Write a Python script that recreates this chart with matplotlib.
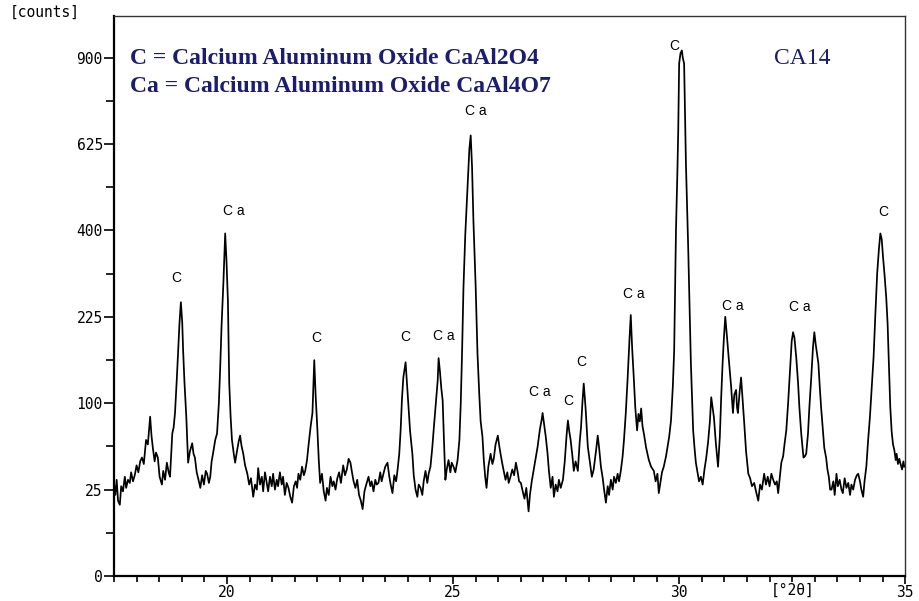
import numpy as np
import matplotlib
matplotlib.use('Agg')
import matplotlib.pyplot as plt

# XRD scan of sample CA14 (2theta in degrees, counts)
two_theta = [
    17.50, 17.53, 17.56, 17.59, 17.63, 17.66, 17.70, 17.74, 17.77, 17.81,
    17.85, 17.88, 17.92, 17.96, 18.00, 18.04, 18.08, 18.12, 18.16, 18.21,
    18.25, 18.30, 18.33, 18.36, 18.40, 18.43, 18.47, 18.51, 18.56, 18.59,
    18.63, 18.67, 18.71, 18.74, 18.79, 18.82, 18.85, 18.89, 18.92, 18.95,
    18.98, 19.01, 19.03, 19.06, 19.10, 19.14, 19.18, 19.23, 19.26, 19.29,
    19.33, 19.37, 19.41, 19.45, 19.49, 19.53, 19.56, 19.60, 19.63, 19.66,
    19.69, 19.74, 19.78, 19.82, 19.85, 19.88, 19.92, 19.96, 19.99, 20.02,
    20.05, 20.08, 20.11, 20.15, 20.18, 20.22, 20.26, 20.29, 20.32, 20.36,
    20.40, 20.45, 20.49, 20.53, 20.58, 20.62, 20.66, 20.69, 20.73, 20.77,
    20.80, 20.84, 20.88, 20.91, 20.95, 20.99, 21.02, 21.06, 21.10, 21.13,
    21.17, 21.21, 21.24, 21.28, 21.32, 21.36, 21.40, 21.44, 21.48, 21.52,
    21.55, 21.58, 21.62, 21.66, 21.70, 21.73, 21.77, 21.80, 21.85, 21.89,
    21.91, 21.93, 21.96, 22.00, 22.03, 22.06, 22.10, 22.14, 22.18, 22.21,
    22.25, 22.29, 22.33, 22.36, 22.40, 22.44, 22.48, 22.52, 22.57, 22.61,
    22.65, 22.69, 22.73, 22.77, 22.80, 22.84, 22.88, 22.92, 22.96, 23.00,
    23.04, 23.08, 23.13, 23.17, 23.20, 23.24, 23.28, 23.31, 23.35, 23.39,
    23.42, 23.46, 23.50, 23.55, 23.59, 23.62, 23.66, 23.70, 23.74, 23.77,
    23.81, 23.84, 23.87, 23.90, 23.95, 23.98, 24.01, 24.05, 24.10, 24.13,
    24.17, 24.21, 24.24, 24.28, 24.32, 24.35, 24.39, 24.43, 24.46, 24.50,
    24.54, 24.57, 24.62, 24.66, 24.68, 24.71, 24.74, 24.77, 24.80, 24.83,
    24.86, 24.90, 24.94, 24.97, 25.01, 25.05, 25.10, 25.14, 25.17, 25.20,
    25.23, 25.27, 25.32, 25.36, 25.39, 25.42, 25.45, 25.50, 25.54, 25.58,
    25.61, 25.65, 25.68, 25.71, 25.74, 25.78, 25.83, 25.87, 25.90, 25.94,
    25.99, 26.02, 26.05, 26.09, 26.12, 26.16, 26.20, 26.23, 26.27, 26.31,
    26.35, 26.39, 26.43, 26.46, 26.50, 26.54, 26.58, 26.62, 26.67, 26.70,
    26.74, 26.78, 26.82, 26.87, 26.92, 26.96, 26.98, 27.02, 27.05, 27.09,
    27.12, 27.16, 27.20, 27.23, 27.27, 27.31, 27.34, 27.38, 27.43, 27.47,
    27.51, 27.54, 27.57, 27.60, 27.64, 27.67, 27.71, 27.76, 27.80, 27.83,
    27.86, 27.89, 27.93, 27.98, 28.02, 28.07, 28.11, 28.16, 28.20, 28.23,
    28.27, 28.31, 28.34, 28.38, 28.42, 28.45, 28.49, 28.53, 28.56, 28.60,
    28.64, 28.67, 28.71, 28.75, 28.78, 28.82, 28.86, 28.90, 28.93, 28.96,
    29.00, 29.03, 29.07, 29.10, 29.13, 29.16, 29.19, 29.22, 29.27, 29.33,
    29.38, 29.44, 29.48, 29.52, 29.55, 29.59, 29.62, 29.66, 29.71, 29.74,
    29.78, 29.82, 29.86, 29.89, 29.93, 29.96, 29.98, 30.00, 30.03, 30.06,
    30.08, 30.11, 30.15, 30.20, 30.26, 30.31, 30.34, 30.37, 30.40, 30.44,
    30.48, 30.52, 30.56, 30.60, 30.64, 30.68, 30.71, 30.74, 30.77, 30.81,
    30.86, 30.90, 30.93, 30.96, 30.99, 31.02, 31.06, 31.10, 31.15, 31.19,
    31.22, 31.26, 31.28, 31.30, 31.34, 31.37, 31.41, 31.44, 31.48, 31.53,
    31.57, 31.61, 31.66, 31.70, 31.75, 31.79, 31.83, 31.88, 31.92, 31.96,
    32.00, 32.04, 32.08, 32.12, 32.16, 32.19, 32.23, 32.26, 32.30, 32.33,
    32.37, 32.41, 32.45, 32.49, 32.52, 32.55, 32.59, 32.63, 32.66, 32.70,
    32.75, 32.78, 32.81, 32.85, 32.88, 32.92, 32.96, 32.99, 33.02, 33.05,
    33.08, 33.11, 33.14, 33.18, 33.21, 33.25, 33.28, 33.31, 33.34, 33.37,
    33.41, 33.44, 33.48, 33.51, 33.55, 33.59, 33.62, 33.66, 33.70, 33.74,
    33.78, 33.81, 33.85, 33.89, 33.93, 33.96, 34.00, 34.03, 34.07, 34.10,
    34.14, 34.18, 34.22, 34.26, 34.30, 34.34, 34.38, 34.42, 34.45, 34.48,
    34.51, 34.54, 34.58, 34.61, 34.64, 34.67, 34.70, 34.73, 34.76, 34.79,
    34.81, 34.84, 34.87, 34.89, 34.93, 34.96, 34.98,
]
counts = [
    29, 22, 31, 19, 17, 27, 24, 33, 26, 31,
    29, 36, 30, 34, 41, 36, 44, 47, 42, 62,
    58, 85, 66, 55, 44, 51, 47, 33, 28, 37,
    31, 43, 36, 33, 68, 74, 89, 130, 171, 215,
    251, 215, 170, 125, 85, 43, 52, 59, 50, 47,
    36, 31, 26, 34, 28, 37, 35, 29, 33, 44,
    50, 62, 68, 100, 146, 210, 287, 393, 330, 254,
    124, 85, 62, 50, 43, 52, 61, 66, 57, 50,
    41, 35, 28, 32, 21, 28, 25, 39, 28, 33,
    24, 36, 29, 24, 33, 27, 35, 25, 31, 27,
    36, 28, 33, 22, 29, 26, 21, 18, 27, 30,
    26, 35, 31, 40, 34, 37, 45, 56, 75, 89,
    120, 156, 110, 71, 45, 29, 35, 24, 19, 26,
    22, 33, 27, 30, 25, 32, 36, 29, 41, 34,
    38, 46, 43, 35, 30, 26, 31, 22, 19, 15,
    24, 28, 33, 27, 30, 24, 31, 28, 29, 36,
    30, 35, 40, 43, 33, 28, 23, 34, 30, 37,
    50, 71, 105, 132, 153, 125, 100, 70, 50, 34,
    25, 21, 28, 26, 22, 30, 37, 29, 35, 40,
    55, 71, 100, 128, 159, 140, 118, 103, 60, 31,
    38, 45, 36, 43, 40, 36, 45, 62, 100, 170,
    279, 390, 505, 610, 650, 560, 423, 280, 166, 110,
    80, 65, 45, 33, 26, 40, 50, 42, 46, 58,
    66, 57, 50, 42, 37, 31, 36, 29, 33, 38,
    34, 43, 36, 30, 29, 24, 20, 26, 14, 22,
    30, 37, 45, 56, 72, 82, 89, 75, 65, 50,
    37, 26, 33, 21, 28, 24, 31, 26, 31, 44,
    66, 81, 70, 62, 48, 37, 44, 37, 60, 74,
    100, 124, 95, 56, 45, 33, 38, 52, 66, 55,
    40, 32, 25, 18, 27, 22, 31, 25, 33, 29,
    35, 30, 37, 48, 62, 89, 130, 185, 228, 175,
    128, 95, 71, 88, 80, 94, 75, 68, 55, 45,
    40, 37, 30, 35, 23, 30, 36, 40, 48, 55,
    65, 81, 120, 170, 400, 540, 665, 879, 915, 925,
    900, 879, 570, 362, 151, 71, 55, 43, 37, 30,
    33, 28, 38, 47, 60, 80, 107, 95, 84, 60,
    40, 65, 107, 150, 190, 225, 190, 156, 120, 89,
    110, 116, 95, 89, 115, 132, 100, 78, 52, 35,
    32, 27, 29, 24, 19, 28, 25, 35, 28, 33,
    27, 35, 31, 28, 30, 23, 34, 43, 48, 58,
    71, 100, 140, 185, 199, 190, 160, 125, 95, 68,
    47, 48, 50, 68, 95, 130, 175, 199, 180, 165,
    151, 120, 95, 70, 55, 47, 38, 33, 25, 25,
    30, 22, 35, 27, 31, 25, 23, 32, 26, 29,
    22, 28, 25, 31, 34, 35, 30, 25, 21, 30,
    40, 62, 85, 120, 160, 230, 307, 360, 393, 380,
    340, 307, 260, 214, 150, 95, 70, 58, 53, 45,
    50, 42, 46, 43, 38, 44, 40,
]

# phase labels above the peaks
peak_labels = ['C', 'Ca', 'C', 'C', 'Ca', 'Ca', 'Ca', 'C', 'C',
               'Ca', 'C', 'Ca', 'Ca', 'C']
label_x = [18.87, 20.14, 21.98, 23.95, 24.79, 25.50, 26.92, 27.54, 27.83,
           29.00, 29.89, 31.19, 32.66, 34.52]
label_y = [297, 447, 189, 192, 193, 725, 113, 103, 153,
           266, 939, 245, 242, 443]

y_ticks = [0, 25, 100, 225, 400, 625, 900]
y_minor = [6.25, 56.25, 156.25, 306.25, 506.25, 756.25]
x_ticks = [20, 25, 30, 35]

navy = '#1c1c70'
mono = 'DejaVu Sans Mono'

fig = plt.figure(figsize=(9.19, 6.01), dpi=100)
ax = fig.add_axes([0.124, 0.0416, 0.861, 0.9317])

ax.plot(two_theta, counts, color='black', linewidth=1.25)

# square-root intensity axis
ax.set_yscale('function', functions=(lambda y: np.sqrt(np.clip(y, 0, None)),
                                     lambda y: y**2))
ax.set_ylim(0, 1050)
ax.set_xlim(17.5, 35)

ax.set_yticks(y_ticks)
ax.set_yticklabels([str(v) for v in y_ticks])
ax.set_yticks(y_minor, minor=True)
ax.set_xticks(x_ticks)
ax.set_xticklabels([str(v) for v in x_ticks])
ax.set_xticks(np.arange(17.5, 35, 0.5), minor=True)

ax.tick_params(axis='both', which='both', direction='out', width=1.2,
               labelsize=10.5)
ax.tick_params(axis='y', which='major', length=7, pad=1)
ax.tick_params(axis='y', which='minor', length=6)
ax.tick_params(axis='x', which='major', length=6, pad=0.5)
ax.tick_params(axis='x', which='minor', length=4)
for t in ax.xaxis.get_minor_ticks():
    if abs((t.get_loc() - 2.5) % 5) < 1e-6:
        t.tick1line.set_markersize(6)
for lab in ax.get_xticklabels() + ax.get_yticklabels():
    lab.set_family(mono)

for sp in ['left', 'bottom']:
    ax.spines[sp].set_linewidth(1.6)
for sp in ['top', 'right']:
    ax.spines[sp].set_linewidth(1.0)
    ax.spines[sp].set_color('#333333')

for lab, x, y in zip(peak_labels, label_x, label_y):
    ax.text(x, y, ' '.join(lab) if len(lab) > 1 else lab, ha='center',
            va='center', fontsize=10, family='Liberation Sans')

ax.text(32.5, -0.025, '[°2θ]', transform=ax.get_xaxis_transform(),
        ha='center', va='center', fontsize=10.5, family=mono)
fig.text(0.011, 0.979, '[counts]', ha='left', va='center', fontsize=10.5,
         family=mono)

ax.text(0.02, 0.925, 'C = Calcium Aluminum Oxide CaAl2O4',
        transform=ax.transAxes, fontsize=17, fontweight='bold',
        family='Liberation Serif', color=navy, va='center')
ax.text(0.02, 0.875, 'Ca = Calcium Aluminum Oxide CaAl4O7',
        transform=ax.transAxes, fontsize=17, fontweight='bold',
        family='Liberation Serif', color=navy, va='center')
ax.text(0.87, 0.925, 'CA14', transform=ax.transAxes, fontsize=17,
        family='Liberation Serif', color=navy, va='center', ha='center')

fig.savefig('out.png', dpi=100)
